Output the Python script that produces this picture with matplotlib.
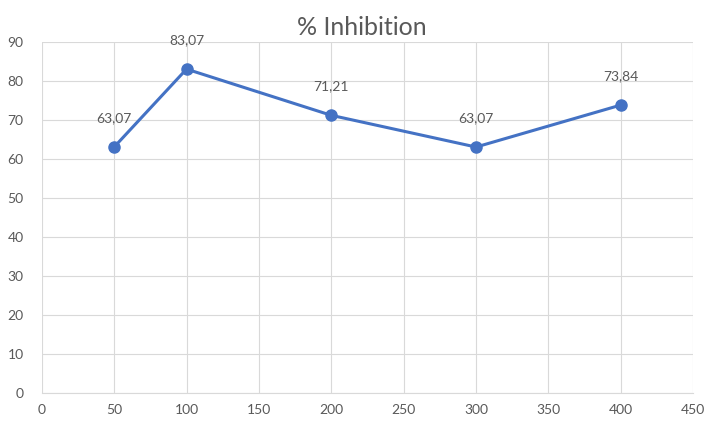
import matplotlib
matplotlib.use('Agg')
import matplotlib.pyplot as plt
import matplotlib.ticker as ticker

plt.rcParams['font.family'] = 'Lato'

# data
dose = [50, 100, 200, 300, 400]
inhibition = [63.07, 83.07, 71.21, 63.07, 73.84]
value_labels = ['63,07', '83,07', '71,21', '63,07', '73,84']

text_grey = '#595959'
grid_grey = '#d9d9d9'
line_blue = '#4472C4'

fig = plt.figure(figsize=(7.08, 4.21), dpi=100)
ax = fig.add_axes([0.059, 0.067, 0.92, 0.833])

ax.plot(dose, inhibition, color=line_blue, linewidth=2.2, marker='o',
        markersize=8, zorder=3)

for x, y, s in zip(dose, inhibition, value_labels):
    ax.annotate(s, (x, y), xytext=(0, 21), textcoords='offset points',
                ha='center', va='center', fontsize=10, color=text_grey)

ax.set_xlim(0, 450)
ax.set_ylim(0, 90)
ax.xaxis.set_major_locator(ticker.MultipleLocator(50))
ax.yaxis.set_major_locator(ticker.MultipleLocator(10))
ax.grid(True, color=grid_grey, linewidth=0.8)
ax.set_axisbelow(True)

for side in ['top', 'right', 'left']:
    ax.spines[side].set_visible(False)
ax.spines['bottom'].set_color(grid_grey)

ax.tick_params(axis='both', length=0, labelsize=10, colors=text_grey)
ax.tick_params(axis='x', pad=8)
ax.tick_params(axis='y', pad=13)

# title sits a touch left of the plot-area centre
fig.text(0.511, 0.935, '% Inhibition', fontsize=18, color=text_grey,
         ha='center', va='center')

plt.savefig('out.png', dpi=100)
